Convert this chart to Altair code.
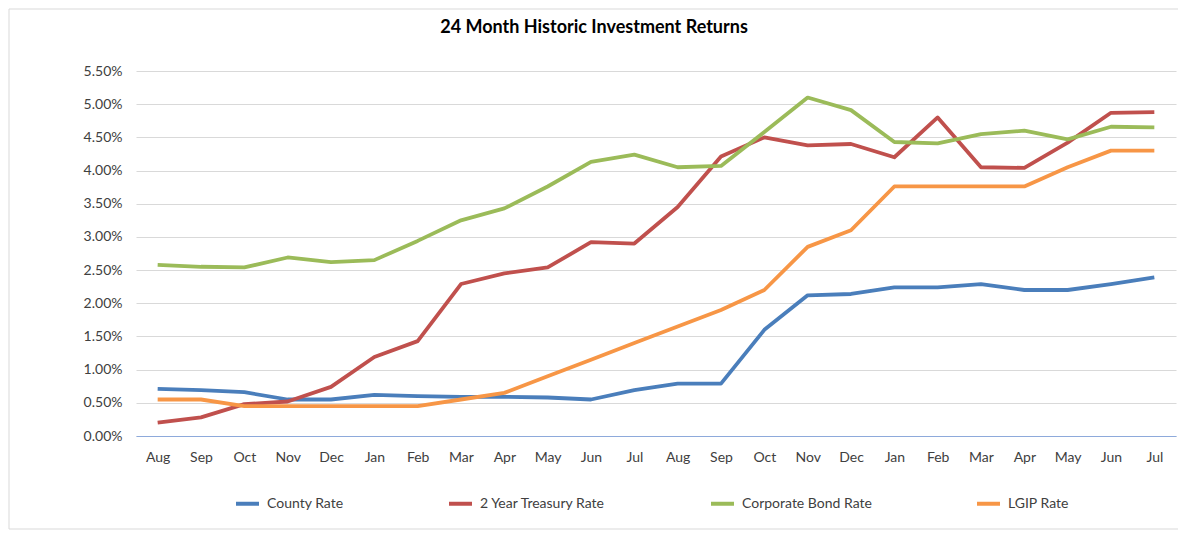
import altair as alt
import pandas as pd

months = ["Aug 2021", "Sep 2021", "Oct 2021", "Nov 2021", "Dec 2021", "Jan 2022",
          "Feb 2022", "Mar 2022", "Apr 2022", "May 2022", "Jun 2022", "Jul 2022",
          "Aug 2022", "Sep 2022", "Oct 2022", "Nov 2022", "Dec 2022", "Jan 2023",
          "Feb 2023", "Mar 2023", "Apr 2023", "May 2023", "Jun 2023", "Jul 2023"]

series_names = ["County Rate", "2 Year Treasury Rate", "Corporate Bond Rate", "LGIP Rate"]
series_colors = ["#4A7EBB", "#C0504D", "#9BBB59", "#F79646"]

county = [0.71, 0.69, 0.66, 0.55, 0.55, 0.62, 0.60, 0.59, 0.59, 0.58, 0.55, 0.69,
          0.79, 0.79, 1.60, 2.12, 2.14, 2.24, 2.24, 2.29, 2.20, 2.20, 2.29, 2.39]
treasury = [0.20, 0.28, 0.48, 0.52, 0.74, 1.19, 1.43, 2.29, 2.45, 2.54, 2.92, 2.90,
            3.45, 4.21, 4.50, 4.38, 4.40, 4.20, 4.80, 4.05, 4.04, 4.42, 4.87, 4.88]
corporate = [2.58, 2.55, 2.54, 2.69, 2.62, 2.65, 2.94, 3.25, 3.43, 3.76, 4.13, 4.24,
             4.05, 4.07, 4.58, 5.10, 4.91, 4.43, 4.41, 4.55, 4.60, 4.47, 4.66, 4.65]
lgip = [0.55, 0.55, 0.45, 0.45, 0.45, 0.45, 0.45, 0.55, 0.65, 0.90, 1.15, 1.40,
        1.65, 1.90, 2.20, 2.85, 3.10, 3.76, 3.76, 3.76, 3.76, 4.05, 4.30, 4.30]

y_ticks = [0, 0.5, 1.0, 1.5, 2.0, 2.5, 3.0, 3.5, 4.0, 4.5, 5.0, 5.5]
title_text = "24 Month Historic Investment Returns"

rows = []
for name, vals in zip(series_names, [county, treasury, corporate, lgip]):
    for m, v in zip(months, vals):
        rows.append({"month": m, "series": name, "rate": v})
df = pd.DataFrame(rows)

FONT = "Lato"
W, H = 1040, 365

lines = alt.Chart(df).mark_line(strokeWidth=3.8, strokeJoin="round").encode(
    x=alt.X("month:N", sort=months, title=None,
            scale=alt.Scale(paddingInner=0, paddingOuter=0.5),
            axis=alt.Axis(labelExpr="split(datum.label, ' ')[0]", labelAngle=0,
                          ticks=False, domain=True, domainColor="#8EAADB",
                          domainWidth=1.2, labelPadding=14, labelFontSize=14,
                          labelColor="#404040", grid=False)),
    y=alt.Y("rate:Q", title=None,
            scale=alt.Scale(domain=[0, 5.5], nice=False),
            axis=alt.Axis(values=y_ticks, labelExpr="format(datum.value, '.2f') + '%'",
                          ticks=False, domain=False, gridColor="#D9D9D9",
                          gridWidth=1, labelPadding=14, labelFontSize=14,
                          labelColor="#404040")),
    color=alt.Color("series:N", title=None,
                    scale=alt.Scale(domain=series_names, range=series_colors),
                    legend=alt.Legend(orient="none", legendX=98, legendY=419,
                                      direction="horizontal", symbolType="stroke",
                                      symbolSize=529, symbolStrokeWidth=4,
                                      columnPadding=97, labelFontSize=14,
                                      labelColor="#404040", labelOffset=6,
                                      labelLimit=300)),
    order=alt.Order("series:N"),
)

title = alt.Chart(pd.DataFrame({"t": [title_text]})).mark_text(
    fontSize=18, fontWeight="bold", color="#000000", font=FONT, baseline="middle"
).encode(text="t:N", x=alt.value(458), y=alt.value(-43))

frame = alt.Chart(pd.DataFrame({"t": [0]})).mark_rect(
    fill=None, stroke="#D9D9D9", strokeWidth=1
).encode(x=alt.value(-127), x2=alt.value(W + 3), y=alt.value(-62), y2=alt.value(H + 93))

chart = alt.layer(frame, lines, title).properties(
    width=W, height=H,
    padding={"left": 128, "top": 63, "right": 2, "bottom": 94},
    autosize=alt.AutoSizeParams(type="none"),
).configure(font=FONT).configure_view(stroke=None)

chart.save("out.html", embed_options={"renderer": "svg", "actions": False})
